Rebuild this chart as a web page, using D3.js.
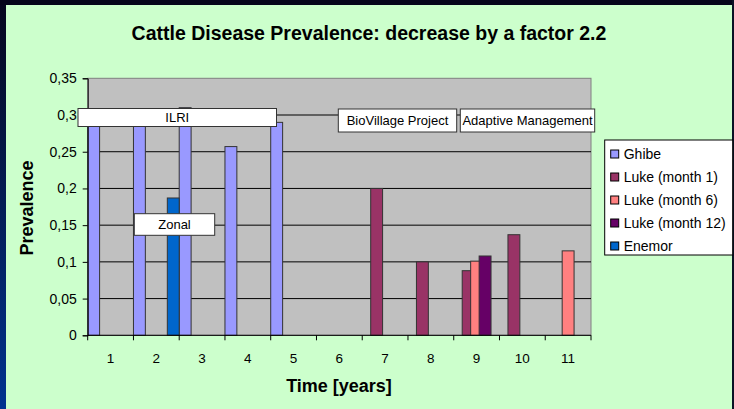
<!DOCTYPE html>
<html><head><meta charset="utf-8">
<script src="https://cdn.jsdelivr.net/npm/d3@7"></script>
<style>
html,body{margin:0;padding:0;}
body{width:734px;height:409px;overflow:hidden;background:#CCFFCC;}
svg{display:block;font-family:Arial,"Liberation Sans",sans-serif;}
</style></head><body><svg id="c" width="734" height="409"></svg>
<script>
const categories = ["1","2","3","4","5","6","7","8","9","10","11"];
const seriesNames = ["Ghibe","Luke (month 1)","Luke (month 6)","Luke (month 12)","Enemor"];
const ghibe   = [0.29, 0.30, 0.31, 0.257, 0.29, null, null, null, null, null, null];
const luke1   = [null, null, null, null, null, null, 0.20, 0.10, 0.088, 0.137, null];
const luke6   = [null, null, null, null, null, null, null, null, 0.101, null, 0.115];
const luke12  = [null, null, null, null, null, null, null, null, 0.108, null, null];
const enemor  = [null, 0.187, null, null, null, null, null, null, null, null, null];
const yTicks = [0, 0.05, 0.1, 0.15, 0.2, 0.25, 0.3, 0.35];
const titleText = "Cattle Disease Prevalence: decrease by a factor 2.2";
const xTitle = "Time [years]";
const yTitle = "Prevalence";
const annotationTexts = ["ILRI", "Zonal", "BioVillage Project", "Adaptive Management"];

const seriesValues = [ghibe, luke1, luke6, luke12, enemor];
const colors = ["#9999FF", "#993366", "#FF8080", "#660066", "#0066CC"];

const svg = d3.select("#c");
// frame
const defs = svg.append("defs");
const lg = defs.append("linearGradient").attr("id","lg").attr("x1",0).attr("y1",0).attr("x2",0).attr("y2",1);
lg.append("stop").attr("offset","0%").attr("stop-color","#06061c");
lg.append("stop").attr("offset","100%").attr("stop-color","#00338f");
svg.append("rect").attr("x",0).attr("y",0).attr("width",734).attr("height",409).attr("fill","#CCFFCC");
svg.append("rect").attr("x",0).attr("y",0).attr("width",6).attr("height",409).attr("fill","url(#lg)");
svg.append("rect").attr("x",0).attr("y",0).attr("width",734).attr("height",5).attr("fill","#05051a");
svg.append("rect").attr("x",732).attr("y",0).attr("width",2).attr("height",409).attr("fill","#0a1224");

const L = 87.7, R = 591, T = 78.3, B = 335.3;
const x = d3.scaleBand().domain(categories).range([L, R]).padding(0);
const y = d3.scaleLinear().domain([0, 0.35]).range([B, T]);
const bw = x.bandwidth();
const barW = bw * 0.26;
const step = (bw - barW) / (seriesNames.length - 1);

// plot area
svg.append("rect").attr("x", L).attr("y", T).attr("width", R - L).attr("height", B - T)
  .attr("fill", "#C0C0C0").attr("stroke", "#808080").attr("stroke-width", 1);
// gridlines
svg.append("g").selectAll("line").data(yTicks.filter(d => d > 0 && d < 0.35)).join("line")
  .attr("x1", L).attr("x2", R).attr("y1", d => y(d)).attr("y2", d => y(d))
  .attr("stroke", "#000").attr("stroke-width", 1);

// bars
seriesValues.forEach((vals, si) => {
  svg.append("g").selectAll("rect")
    .data(vals.map((v, i) => ({v, c: categories[i]})).filter(d => d.v != null))
    .join("rect")
    .attr("x", d => x(d.c) + si * step)
    .attr("y", d => y(d.v))
    .attr("width", barW)
    .attr("height", d => y(0) - y(d.v))
    .attr("fill", colors[si])
    .attr("stroke", "#333").attr("stroke-width", 1);
});

const fmt = d3.formatLocale({decimal: ",", thousands: ".", grouping: [3], currency: ["", ""]}).format("~g");
// y axis
const yAxis = svg.append("g").attr("transform", `translate(${L},0)`)
  .call(d3.axisLeft(y).tickValues(yTicks).tickFormat(fmt).tickSize(5).tickPadding(6));
yAxis.select(".domain").attr("stroke", "#000");
yAxis.selectAll("text").attr("font-size", 14).attr("fill", "#000").attr("font-family", "Arial, 'Liberation Sans', sans-serif");

// x axis: ticks at category boundaries
const xg = svg.append("g");
xg.append("line").attr("x1", L).attr("x2", R).attr("y1", B).attr("y2", B).attr("stroke", "#000");
const bounds = categories.map(c => x(c)).concat([R]);
xg.selectAll("line.t").data(bounds).join("line").attr("class","t")
  .attr("x1", d => d).attr("x2", d => d).attr("y1", B).attr("y2", B + 5).attr("stroke", "#000");
xg.selectAll("text").data(categories).join("text")
  .attr("x", d => x(d) + bw / 2).attr("y", B + 28)
  .attr("text-anchor", "middle").attr("font-size", 13.5).text(d => d);

// titles
svg.append("text").attr("x", 369).attr("y", 40).attr("text-anchor", "middle")
  .attr("font-weight", "bold").attr("font-size", 19.5).text(titleText);
svg.append("text").attr("x", 339).attr("y", 392).attr("text-anchor", "middle")
  .attr("font-weight", "bold").attr("font-size", 18).text(xTitle);
svg.append("text").attr("transform", "translate(33,208) rotate(-90)").attr("text-anchor", "middle")
  .attr("font-weight", "bold").attr("font-size", 18).text(yTitle);

// annotation boxes
const annBoxes = [
  {x: 78, y: 108.5, w: 198.5, h: 18},
  {x: 134.3, y: 213.7, w: 80.4, h: 21.6},
  {x: 338.3, y: 109, w: 118.4, h: 23},
  {x: 460.3, y: 109, w: 134.4, h: 23}
];
const ag = svg.append("g").selectAll("g").data(annotationTexts).join("g");
ag.append("rect").attr("x", (d, i) => annBoxes[i].x).attr("y", (d, i) => annBoxes[i].y)
  .attr("width", (d, i) => annBoxes[i].w).attr("height", (d, i) => annBoxes[i].h)
  .attr("fill", "#fff").attr("stroke", "#333").attr("stroke-width", 1);
ag.append("text").attr("x", (d, i) => annBoxes[i].x + annBoxes[i].w / 2)
  .attr("y", (d, i) => annBoxes[i].y + annBoxes[i].h / 2 + 4.7)
  .attr("text-anchor", "middle").attr("font-size", 13).attr("fill", "#000").text(d => d);

// legend
const lgX = 604.7, lgY = 140, lgW = 128, lgH = 115;
svg.append("rect").attr("x", lgX).attr("y", lgY).attr("width", lgW).attr("height", lgH)
  .attr("fill", "#fff").attr("stroke", "#000").attr("stroke-width", 1);
const li = svg.append("g").selectAll("g").data(seriesNames).join("g")
  .attr("transform", (d, i) => `translate(${lgX + 6},${lgY + 14 + i * 23})`);
li.append("rect").attr("x", 0).attr("y", -4).attr("width", 8).attr("height", 8)
  .attr("fill", (d, i) => colors[i]).attr("stroke", "#000").attr("stroke-width", 1);
li.append("text").attr("x", 13).attr("y", 5).attr("font-size", 14).text(d => d);
</script>
</body></html>
